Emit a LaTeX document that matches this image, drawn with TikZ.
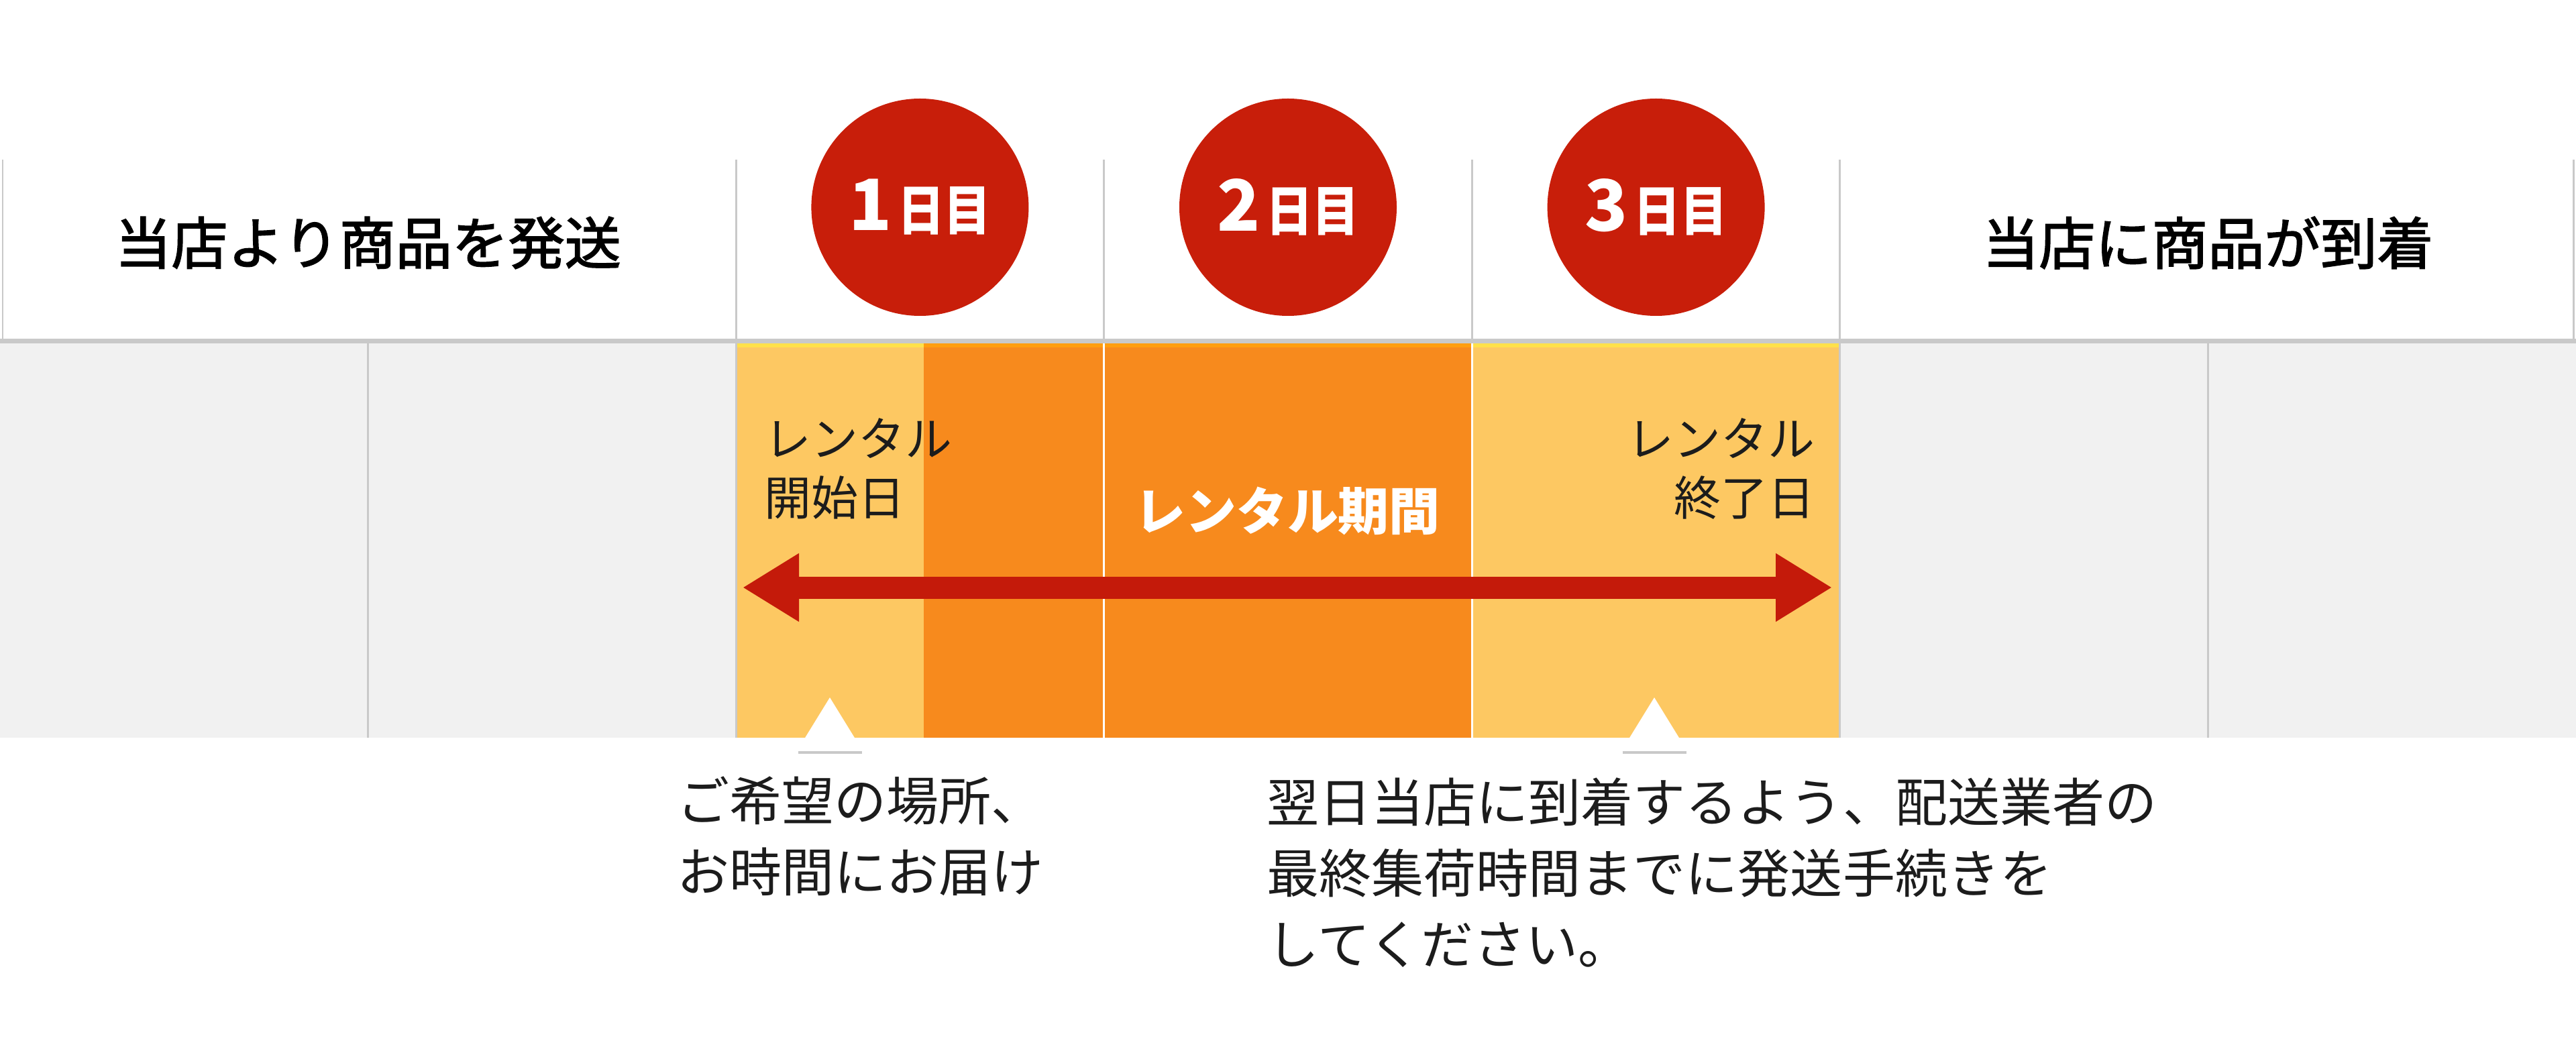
\documentclass[tikz,border=0pt]{standalone}
\usepackage{fontspec}
\setmainfont{Noto Sans CJK JP}
\newfontfamily\headfont[FakeBold=2]{Noto Sans CJK JP}
\usetikzlibrary{arrows.meta}
\definecolor{cellgray}{HTML}{F1F1F1}
\definecolor{rulegray}{HTML}{C9C9C9}
\definecolor{paleorange}{HTML}{FDC862}
\definecolor{deeporange}{HTML}{F78A1D}
\definecolor{badgered}{HTML}{C81E0A}
\definecolor{arrowred}{HTML}{C41A0A}
\definecolor{edgeyellow}{HTML}{FFE14A}
\definecolor{edgeorange}{HTML}{FF9E10}
\definecolor{textblack}{HTML}{1C1C1C}
\newcommand{\daylabel}[1]{{\fontsize{30pt}{30pt}\selectfont #1}\kern2.5pt\scalebox{0.86}[1]{\fontsize{23pt}{23pt}\selectfont 日目}}
\begin{document}
\begin{tikzpicture}[
  daybadge/.style={circle,fill=badgered,text=white,minimum size=3.24cm,inner sep=0pt,font=\bfseries},
  headtext/.style={font=\headfont\fontsize{23.9pt}{28pt}\selectfont,inner sep=0pt,text=black},
  bodytext/.style={font=\fontsize{19.9pt}{25pt}\selectfont,inner sep=0pt,text=textblack},
  notetext/.style={font=\fontsize{22.2pt}{30.2pt}\selectfont,inner sep=0pt,align=left,anchor=west,text=textblack},
  gridline/.style={draw=rulegray,line width=0.85pt},
  spantip/.tip={Triangle[width=0.96cm,length=0.84cm]}]
\useasboundingbox (0,0) rectangle (38.4,15.84);
\fill[cellgray] (0,4.84) rectangle (10.971,10.76);
\fill[cellgray] (27.429,4.84) rectangle (38.4,10.76);
\fill[paleorange] (10.971,4.84) rectangle (13.77,10.76);
\fill[deeporange] (13.77,4.84) rectangle (21.943,10.76);
\fill[paleorange] (21.943,4.84) rectangle (27.429,10.76);
\fill[edgeyellow] (10.971,10.66) rectangle (13.77,10.72);
\fill[edgeorange] (13.77,10.66) rectangle (21.943,10.72);
\fill[edgeyellow] (21.943,10.66) rectangle (27.429,10.72);
\draw[gridline] (0.04,10.76) -- (0.04,13.46);
\draw[gridline] (10.971,4.84) -- (10.971,13.46);
\draw[gridline] (16.457,10.76) -- (16.457,13.46);
\draw[gridline] (21.943,10.76) -- (21.943,13.46);
\draw[gridline] (27.429,4.84) -- (27.429,13.46);
\draw[gridline] (38.36,10.76) -- (38.36,13.46);
\draw[gridline] (5.486,4.84) -- (5.486,10.76);
\draw[gridline] (32.914,4.84) -- (32.914,10.76);
\draw[white,line width=0.85pt] (16.457,4.84) -- (16.457,10.72);
\draw[white,line width=0.85pt] (21.943,4.84) -- (21.943,10.72);
\draw[rulegray,line width=2pt] (0,10.755) -- (38.4,10.755);
\node[headtext] (ship) at (5.486,12.22) {当店より商品を発送};
\node[headtext] (arrive) at (32.914,12.22) {当店に商品が到着};
\node[daybadge] (day1) at (13.714,12.75) {\daylabel{1}};
\node[daybadge] (day2) at (19.2,12.75) {\daylabel{2}};
\node[daybadge] (day3) at (24.686,12.75) {\daylabel{3}};
\node[bodytext,align=left,anchor=west] (startday) at (11.39,8.85) {レンタル\\開始日};
\node[bodytext,align=right,anchor=east] (endday) at (27.06,8.85) {レンタル\\終了日};
\node[font=\bfseries\fontsize{21.6pt}{26pt}\selectfont,text=white,inner sep=0pt] (period) at (19.19,8.22) {レンタル期間};
\coordinate (spanL) at (11.07,7.08);
\coordinate (spanR) at (27.31,7.08);
\draw[arrowred,line width=0.33cm,spantip-spantip] (spanL) -- (spanR);
\fill[white] (12.37,5.44) -- (12.85,4.66) -- (11.89,4.66) -- cycle;
\fill[white] (24.66,5.44) -- (25.14,4.66) -- (24.18,4.66) -- cycle;
\draw[rulegray,line width=1.3pt] (11.9,4.62) -- (12.85,4.62);
\draw[rulegray,line width=1.3pt] (24.19,4.62) -- (25.14,4.62);
\node[notetext] (delivery) at (10.09,3.37) {ご希望の場所、\\お時間にお届け};
\node[notetext] (returnnote) at (18.88,2.83) {翌日当店に到着するよう、配送業者の\\最終集荷時間までに発送手続きを\\してください。};
\end{tikzpicture}
\end{document}
